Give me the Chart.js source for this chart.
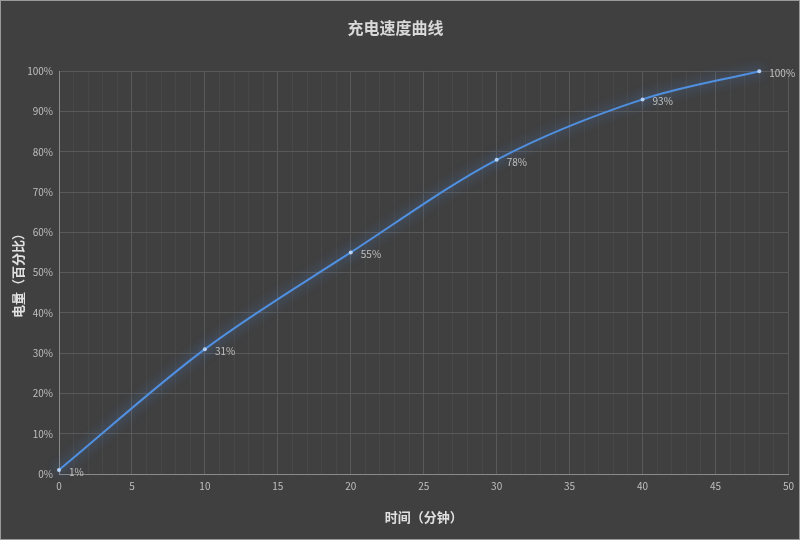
<!DOCTYPE html>
<html>
<head>
<meta charset="utf-8">
<script src="https://cdn.jsdelivr.net/npm/chart.js@4"></script>
<style>
  html, body { margin: 0; padding: 0; background: #404040; }
  #wrap { width: 800px; height: 540px; }
</style>
</head>
<body>
<div id="wrap"><canvas id="charge-chart"></canvas></div>
<script>
// data
const minutes = [0, 10, 20, 30, 40, 48];
const percent = [1, 31, 55, 78, 93, 100];
const yTicks = [0, 10, 20, 30, 40, 50, 60, 70, 80, 90, 100];

const FONT = '"Noto Sans CJK SC", "Noto Sans", sans-serif';

// background + thin frame
const bgPlugin = {
    id: 'bg',
    beforeDraw(chart) {
        const c = chart.ctx;
        c.save();
        c.fillStyle = '#404040';
        c.fillRect(0, 0, chart.width, chart.height);
        c.strokeStyle = '#9a9a9a';
        c.lineWidth = 1;
        c.strokeRect(0.5, 0.5, chart.width - 1, chart.height - 1);
        c.restore();
    }
};

// soft blue glow under the line
const glowPlugin = {
    id: 'glow',
    beforeDatasetDraw(chart) {
        chart.ctx.save();
        chart.ctx.shadowColor = 'rgba(80,140,230,0.85)';
        chart.ctx.shadowBlur = 12;
    },
    afterDatasetDraw(chart) {
        chart.ctx.restore();
    }
};

// value labels right of each point
const labelPlugin = {
    id: 'valueLabels',
    afterDatasetsDraw(chart) {
        const c = chart.ctx;
        const meta = chart.getDatasetMeta(0);
        c.save();
        c.font = '10px ' + FONT;
        c.fillStyle = '#c0c0c0';
        c.textBaseline = 'middle';
        meta.data.forEach((pt, i) => {
            c.fillText(percent[i] + '%', pt.x + 10, pt.y + 2);
        });
        c.restore();
    }
};

const canvas = document.getElementById('charge-chart');
const chart = new Chart(canvas, {
    type: 'line',
    data: {
        datasets: [{
            data: minutes.map((m, i) => ({ x: m, y: percent[i] })),
            borderColor: '#5090e0',
            borderWidth: 2,
            cubicInterpolationMode: 'monotone',
            pointRadius: 2,
            pointBackgroundColor: '#b4d0f4',
            pointBorderWidth: 0,
            clip: false,
            fill: false
        }]
    },
    options: {
        responsive: true,
        maintainAspectRatio: false,
        animation: false,
        layout: { padding: { left: 0, right: 9, top: 0, bottom: 0 } },
        plugins: {
            legend: { display: false },
            tooltip: { enabled: false },
            title: {
                display: true,
                text: '充电速度曲线',
                color: '#d9d9d9',
                font: { family: FONT, size: 16, weight: 'bold' },
                padding: { top: 18, bottom: 34 }
            }
        },
        scales: {
            x: {
                type: 'linear',
                min: 0,
                max: 50,
                afterFit: s => { s.height = 66; },
                ticks: {
                    stepSize: 1,
                    autoSkip: false,
                    maxRotation: 0,
                    color: '#bfbfbf',
                    padding: 6,
                    font: { family: FONT, size: 10 },
                    callback: v => (v % 5 === 0 ? v : '')
                },
                grid: {
                    color: ctx => (ctx.tick && ctx.tick.value % 5 === 0 ? '#595959' : '#484848'),
                    drawTicks: false
                },
                border: { color: '#8a8a8a', width: 1 },
                title: {
                    display: true,
                    text: '时间（分钟）',
                    color: '#e0e0e0',
                    font: { family: FONT, size: 13, weight: 'bold' },
                    padding: { top: 0, bottom: 15 }
                }
            },
            y: {
                min: 0,
                max: 100,
                afterFit: s => { s.width = 59; },
                afterBuildTicks: s => { s.ticks = yTicks.map(v => ({ value: v })); },
                ticks: {
                    color: '#bfbfbf',
                    padding: 6,
                    font: { family: FONT, size: 10 },
                    callback: v => v + '%'
                },
                grid: { color: '#595959', drawTicks: false },
                border: { color: '#8a8a8a', width: 1 },
                title: {
                    display: true,
                    text: '电量（百分比）',
                    color: '#e0e0e0',
                    font: { family: FONT, size: 13, weight: 'bold' },
                    padding: { top: 10, bottom: 0 }
                }
            }
        }
    },
    plugins: [bgPlugin, glowPlugin, labelPlugin]
});
</script>
</body>
</html>
